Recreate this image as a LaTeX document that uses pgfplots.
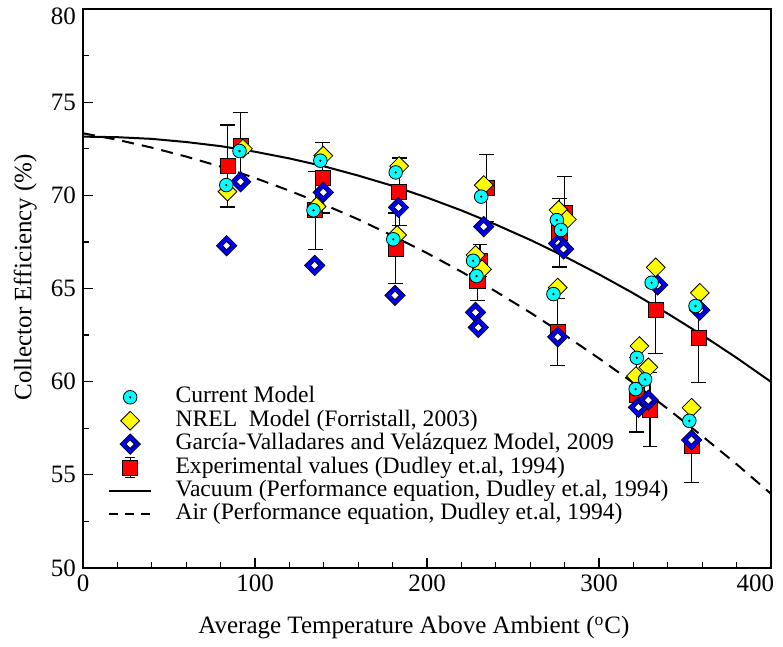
\documentclass[border=0pt]{standalone}
\usepackage{fontspec}
\setmainfont{Liberation Serif}
\usepackage{pgfplots}
\usepackage{pgfplotstable}
\pgfplotsset{compat=1.18}
\definecolor{mcyan}{RGB}{0,255,255}
\definecolor{myellow}{RGB}{255,255,0}
\definecolor{mred}{RGB}{255,0,0}
\definecolor{mblue}{RGB}{0,0,230}

\pgfdeclareplotmark{cdot}{%
  \pgfpathcircle{\pgfpointorigin}{\pgfplotmarksize}%
  \pgfusepathqfillstroke
  \pgfscope
  \pgfpathcircle{\pgfpointorigin}{0.65pt}%
  \pgfsetfillcolor{black}%
  \pgfusepathqfill
  \endpgfscope}
\pgfdeclareplotmark{ydiam}{%
  \pgfpathmoveto{\pgfqpoint{0pt}{\pgfplotmarksize}}%
  \pgfpathlineto{\pgfqpoint{\pgfplotmarksize}{0pt}}%
  \pgfpathlineto{\pgfqpoint{0pt}{-\pgfplotmarksize}}%
  \pgfpathlineto{\pgfqpoint{-\pgfplotmarksize}{0pt}}%
  \pgfpathclose
  \pgfusepathqfillstroke}
\pgfdeclareplotmark{bdiam}{%
  \pgfscope
  \pgfpathmoveto{\pgfqpoint{0pt}{\pgfplotmarksize}}%
  \pgfpathlineto{\pgfqpoint{\pgfplotmarksize}{0pt}}%
  \pgfpathlineto{\pgfqpoint{0pt}{-\pgfplotmarksize}}%
  \pgfpathlineto{\pgfqpoint{-\pgfplotmarksize}{0pt}}%
  \pgfpathclose
  \pgfsetlinewidth{2.5pt}\pgfsetstrokecolor{black}\pgfsetfillcolor{white}%
  \pgfusepathqfillstroke
  \pgfpathmoveto{\pgfqpoint{0pt}{\pgfplotmarksize}}%
  \pgfpathlineto{\pgfqpoint{\pgfplotmarksize}{0pt}}%
  \pgfpathlineto{\pgfqpoint{0pt}{-\pgfplotmarksize}}%
  \pgfpathlineto{\pgfqpoint{-\pgfplotmarksize}{0pt}}%
  \pgfpathclose
  \pgfsetlinewidth{1.7pt}\pgfsetstrokecolor{mblue}%
  \pgfusepathqstroke
  \endpgfscope}

\pgfplotstableread{
x y
83.3 70.55
91.0 72.38
138.0 71.86
134.0 69.20
181.8 71.23
180.4 67.64
231.5 69.93
226.8 66.49
228.8 65.67
275.5 68.67
277.9 68.14
273.5 64.70
330.6 65.31
356.1 64.06
322.0 61.28
326.8 60.12
321.3 59.60
352.5 57.90
}\cyandata

\pgfplotstableread{
x y
84.0 70.20
93.0 72.50
139.7 72.13
135.8 69.40
183.8 71.57
182.6 67.87
233.0 70.55
228.2 66.80
232.0 66.03
276.5 69.21
281.3 68.71
276.0 65.05
333.0 66.13
358.6 64.77
323.5 61.91
328.7 60.77
321.5 60.30
353.8 58.60
}\yellowdata

\pgfplotstableread{
x y
83.5 67.30
91.6 70.73
139.7 70.16
134.7 66.24
183.4 69.35
181.4 64.63
233.0 68.32
228.2 63.72
229.8 62.91
276.5 67.42
279.4 67.12
276.0 62.40
334.1 65.19
358.6 63.84
322.9 58.62
328.7 59.01
353.8 56.87
}\bluedata

\pgfplotstableread{
x y e
84.2 71.57 2.20
91.6 72.66 1.80
139.3 70.95 1.90
135.0 69.20 2.10
183.8 70.20 1.80
181.8 67.15 1.90
234.5 70.40 1.80
230.8 66.50 0.85
229.3 65.40 1.05
280.0 69.05 1.95
277.0 68.00 1.85
276.0 62.65 1.80
333.0 63.85 2.35
358.0 62.37 2.40
322.0 59.30 2.00
329.6 58.50 2.00
353.8 56.55 1.95
}\reddata

\begin{document}
\begin{tikzpicture}
\begin{axis}[
  scale only axis,
  width=344pt, height=279.5pt,
  xmin=0, xmax=400, ymin=50, ymax=80,
  xtick={0,100,...,400}, ytick={50,55,...,80},
  xticklabels={0,100,200,300,\hspace*{3pt}\llap{400}},
  yticklabels={50,55,60,65,70,75,\rule{0pt}{15.5pt}80},
  minor x tick num=4, minor y tick num=1,
  tick align=inside, tick pos=left,
  major tick length=5pt, minor tick length=3pt,
  every tick/.style={black, line width=0.6pt},
  axis line style={line width=0.9pt},
  /pgf/number format/assume math mode=true,
  tick label style={font=\fontsize{12.5}{14}\selectfont},
  label style={font=\fontsize{12.5}{14}\selectfont},
  xlabel={Average Temperature Above Ambient ($^{\mathrm{o}}$C)},
  ylabel={Collector Efficiency (\%)},
  xlabel style={at={(axis description cs:0.481,-0.107)}, anchor=center},
  ylabel style={at={(axis description cs:-0.084,0.52)}, anchor=center},
  legend style={at={(axis description cs:0.036,0.327)}, anchor=north west,
    draw=none, fill=none, inner sep=0pt, row sep=0pt,
    font=\fontsize{11.8}{13}\selectfont,
    nodes={text height=8.2pt, text depth=2.6pt, inner ysep=0.45pt}},
  legend cell align=left,
]
% legend images
\addlegendimage{legend image code/.code={\path (0pt,0pt) (31pt,0pt);
  \begin{scope}[shift={(10.5pt,0pt)}]\pgfsetlinewidth{0.4pt}\pgfsetfillcolor{mcyan}\pgfsetstrokecolor{black}\pgfplotmarksize=3.4pt\pgfuseplotmark{cdot}\end{scope}}}
\addlegendentry{Current Model}
\addlegendimage{legend image code/.code={\path (0pt,0pt) (31pt,0pt);
  \begin{scope}[shift={(10.5pt,0pt)}]\pgfsetlinewidth{0.4pt}\pgfsetfillcolor{myellow}\pgfsetstrokecolor{black}\pgfplotmarksize=4.7pt\pgfuseplotmark{ydiam}\end{scope}}}
\addlegendentry{NREL\ \ Model (Forristall, 2003)}
\addlegendimage{legend image code/.code={\path (0pt,0pt) (31pt,0pt);
  \begin{scope}[shift={(10.5pt,0pt)}]\pgfplotmarksize=3.6pt\pgfuseplotmark{bdiam}\end{scope}}}
\addlegendentry{García-Valladares and Velázquez Model, 2009}
\addlegendimage{legend image code/.code={\path (0pt,0pt) (31pt,0pt);
  \draw[black, line width=0.5pt] (10.5pt,-5pt) -- (10.5pt,5pt) (8pt,-5pt) -- (13pt,-5pt) (8pt,5pt) -- (13pt,5pt);
  \draw[black, line width=0.4pt, fill=mred] (6.7pt,-3.8pt) rectangle (14.3pt,3.8pt);}}
\addlegendentry{Experimental values (Dudley et.al, 1994)}
\addlegendimage{legend image code/.code={\path (0pt,0pt) (31pt,0pt);
  \draw[black, line width=1pt] (0pt,0pt) -- (21pt,0pt);}}
\addlegendentry{Vacuum (Performance equation, Dudley et.al, 1994)}
\addlegendimage{legend image code/.code={\path (0pt,0pt) (31pt,0pt);
  \draw[black, line width=1pt, dash pattern=on 4.5pt off 3.5pt] (0pt,0pt) -- (21pt,0pt);}}
\addlegendentry{Air (Performance equation, Dudley et.al, 1994)}

% curves
\addplot[black, line width=1pt, forget plot] coordinates {
(0,73.15) (20,73.12) (40,73.03) (60,72.86) (80,72.64) (100,72.34) (120,71.98)
(140,71.56) (160,71.06) (180,70.51) (200,69.88) (220,69.19) (240,68.43)
(260,67.61) (280,66.72) (300,65.76) (320,64.74) (340,63.65) (360,62.50)
(380,61.28) (400,59.99)};
\addplot[black, line width=1pt, dash pattern=on 6pt off 4pt, forget plot] coordinates {
(0,73.33) (20,72.98) (40,72.56) (60,72.08) (80,71.54) (100,70.93) (120,70.25)
(140,69.51) (160,68.71) (180,67.83) (200,66.90) (220,65.90) (240,64.84)
(260,63.71) (280,62.51) (300,61.25) (320,59.93) (340,58.54) (360,57.08)
(380,55.57) (400,53.98)};

% experimental
\addplot[only marks, forget plot, mark=square*, mark size=3.8pt,
  mark options={fill=mred, draw=black, line width=0.4pt},
  error bars/.cd, y dir=both, y explicit,
  error bar style={black, line width=0.6pt},
  error mark options={black, line width=0.6pt, mark size=3.7pt, rotate=90}]
  table[x=x, y=y, y error=e] {\reddata};
% NREL
\addplot[only marks, forget plot, mark=ydiam, mark size=4.7pt,
  mark options={fill=myellow, draw=black, line width=0.4pt}]
  table[x=x, y=y] {\yellowdata};
% Garcia
\addplot[only marks, forget plot, mark=bdiam, mark size=3.6pt]
  table[x=x, y=y] {\bluedata};
% Current
\addplot[only marks, forget plot, mark=cdot, mark size=3.4pt,
  mark options={fill=mcyan, draw=black, line width=0.4pt}]
  table[x=x, y=y] {\cyandata};
\end{axis}
\pgfresetboundingbox
\path ([shift={(-41.5pt,-39pt)}]current axis.south west) rectangle ([shift={(6pt,4.5pt)}]current axis.north east);
\end{tikzpicture}
\end{document}
